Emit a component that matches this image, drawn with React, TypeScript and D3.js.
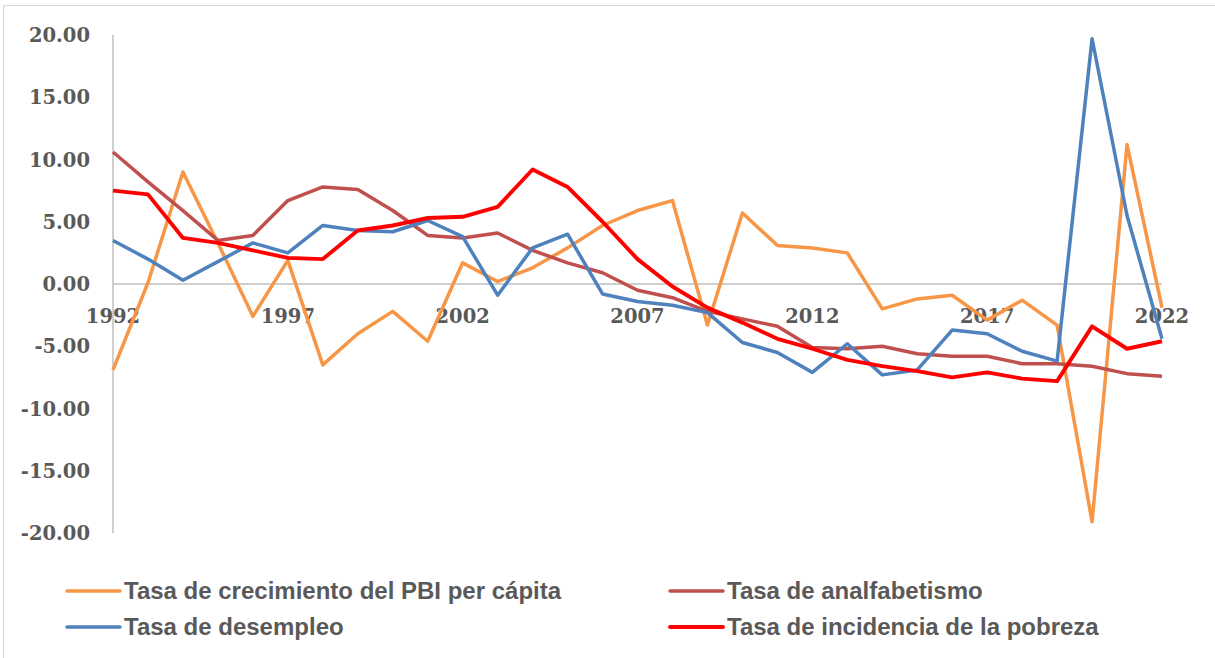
import React, { useEffect, useRef } from 'react';
import * as d3 from 'd3';

const width = 1215;
const height = 658;

const years = d3.range(1992, 2023);
const xTicks = [1992, 1997, 2002, 2007, 2012, 2017, 2022];
const yTicks = [20, 15, 10, 5, 0, -5, -10, -15, -20];

const pbi = [-6.9, 0.1, 9.0, 3.3, -2.6, 1.9, -6.5, -4.0, -2.2, -4.6, 1.7, 0.2, 1.3, 2.9, 4.7, 5.9, 6.7, -3.3, 5.7, 3.1, 2.9, 2.5, -2.0, -1.2, -0.9, -2.9, -1.3, -3.3, -19.1, 11.2, -1.9];
const analfabetismo = [10.6, 8.2, 5.9, 3.5, 3.9, 6.7, 7.8, 7.6, 5.9, 3.9, 3.7, 4.1, 2.7, 1.7, 0.9, -0.5, -1.1, -2.2, -2.8, -3.4, -5.1, -5.2, -5.0, -5.6, -5.8, -5.8, -6.4, -6.4, -6.6, -7.2, -7.4];
const desempleo = [3.5, 2.0, 0.3, 1.8, 3.3, 2.5, 4.7, 4.3, 4.2, 5.1, 3.8, -0.9, 2.9, 4.0, -0.8, -1.4, -1.7, -2.3, -4.7, -5.5, -7.1, -4.8, -7.3, -6.9, -3.7, -4.0, -5.4, -6.2, 19.7, 5.5, -4.4];
const pobreza = [7.5, 7.2, 3.7, 3.3, 2.7, 2.1, 2.0, 4.3, 4.7, 5.3, 5.4, 6.2, 9.2, 7.8, 5.0, 2.0, -0.2, -1.9, -3.1, -4.4, -5.2, -6.1, -6.6, -7.0, -7.5, -7.1, -7.6, -7.8, -3.4, -5.2, -4.6];

const series = [
  { name: 'Tasa de crecimiento del PBI per cápita', values: pbi, color: '#F79646', w: 3.5 },
  { name: 'Tasa de analfabetismo', values: analfabetismo, color: '#C0504D', w: 3.5 },
  { name: 'Tasa de desempleo', values: desempleo, color: '#4F81BD', w: 3.5 },
  { name: 'Tasa de incidencia de la pobreza', values: pobreza, color: '#FF0000', w: 3.9 },
];

const App = () => {
  const svgRef = useRef(null);

  useEffect(() => {
    const svg = d3.select(svgRef.current);
    svg.selectAll('*').remove();

    const x = d3.scaleLinear().domain([1992, 2022]).range([113, 1162]);
    const y = d3.scaleLinear().domain([-20, 20]).range([533, 35]);

    // outer chart border
    svg.append('rect')
      .attr('x', 3.5).attr('y', 5.5)
      .attr('width', width + 10).attr('height', height + 10)
      .attr('fill', 'none').attr('stroke', '#D9D9D9').attr('stroke-width', 1.2);

    svg.append('line')
      .attr('x1', x(1992)).attr('x2', x(1992))
      .attr('y1', y(20)).attr('y2', y(-20))
      .attr('stroke', '#BFBFBF').attr('stroke-width', 1.5);

    svg.append('line')
      .attr('x1', x(1992)).attr('x2', x(2022))
      .attr('y1', y(0)).attr('y2', y(0))
      .attr('stroke', '#BFBFBF').attr('stroke-width', 1.5);

    svg.append('g')
      .selectAll('text')
      .data(yTicks)
      .join('text')
      .attr('x', 90)
      .attr('y', d => y(d) + 7)
      .attr('text-anchor', 'end')
      .attr('font-family', 'DejaVu Serif')
      .attr('font-weight', 'bold')
      .attr('font-size', 19.5)
      .attr('fill', '#595959')
      .text(d => d.toFixed(2));

    svg.append('g')
      .selectAll('text')
      .data(xTicks)
      .join('text')
      .attr('x', d => x(d))
      .attr('y', y(0) + 39)
      .attr('text-anchor', 'middle')
      .attr('font-family', 'DejaVu Serif')
      .attr('font-weight', 'bold')
      .attr('font-size', 19.5)
      .attr('fill', '#595959')
      .text(d => d);

    const line = d3.line<number>()
      .x((d, i) => x(years[i]))
      .y(d => y(d));

    series.forEach(s => {
      svg.append('path')
        .datum(s.values)
        .attr('d', line)
        .attr('fill', 'none')
        .attr('stroke', s.color)
        .attr('stroke-width', s.w)
        .attr('stroke-linejoin', 'round');
    });

    // legend, 2 columns
    const legend = svg.append('g');
    series.forEach((s, i) => {
      const lx = i % 2 === 0 ? 67 : 670;
      const ly = i < 2 ? 591 : 627;
      legend.append('line')
        .attr('x1', lx).attr('x2', lx + 53)
        .attr('y1', ly).attr('y2', ly)
        .attr('stroke', s.color).attr('stroke-width', s.w)
        .attr('stroke-linecap', 'round');
      legend.append('text')
        .attr('x', lx + 57)
        .attr('y', ly + 8)
        .attr('font-family', 'Liberation Sans, Arial, sans-serif')
        .attr('font-weight', 'bold')
        .attr('font-size', 24)
        .attr('fill', '#595959')
        .text(s.name);
    });
  }, []);

  return (
    <div style={{ position: 'absolute', left: 0, top: 0 }}>
      <svg ref={svgRef} width={width} height={height} style={{ display: 'block' }}></svg>
    </div>
  );
};

export default App;
